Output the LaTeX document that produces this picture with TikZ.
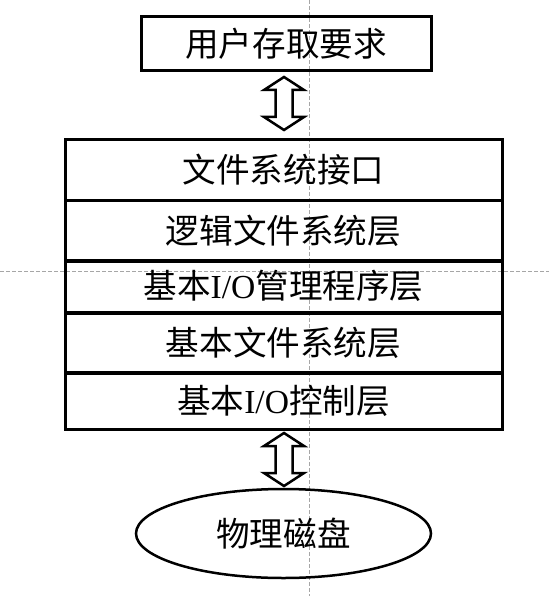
\documentclass[tikz,border=0pt]{standalone}
\usepackage{fontspec}
\setmainfont{Liberation Serif}
\newfontfamily\cjk{Noto Sans CJK SC}
\usetikzlibrary{calc,shapes.geometric}
\newcommand\IOtext{{\rmfamily I/O}}
\begin{document}
\begin{tikzpicture}[x=1pt,y=-1pt,
  label font/.style={font=\fontsize{33.6}{38}\selectfont\cjk},
  boxstyle/.style={draw, line width=3pt, label font, inner sep=0pt},
  layerbox/.style={boxstyle, minimum width=437pt},
  diskstyle/.style={ellipse, draw, line width=2.5pt, label font, inner sep=0pt,
    minimum width=295pt, minimum height=89pt},
  guide/.style={draw=gray!70, line width=0.8pt, dash pattern=on 4pt off 2pt},
  hollowarrow/.style={draw, line width=2.5pt, line join=miter, fill=white}]
\useasboundingbox (0,0) rectangle (549,596);

% guide lines
\draw[guide] (309,0) -- (309,596);
\draw[guide] (0,271) -- (549,271);

% request box
\node[boxstyle, minimum width=290pt, minimum height=54pt] (usr) at (286,44) {用户存取要求};

% layer stack
\node[layerbox, minimum height=60pt] (l1) at (283.5,170) {文件系统接口};
\node[layerbox, minimum height=61pt] (l2) at (283.5,230.5) {逻辑文件系统层};
\node[layerbox, minimum height=52pt] (l3) at (283.5,286) {基本\IOtext 管理程序层};
\node[layerbox, minimum height=60pt] (l4) at (283.5,343) {基本文件系统层};
\node[layerbox, minimum height=57pt] (l5) at (283.5,400.5) {基本\IOtext 控制层};

% disk
\node[diskstyle] (disk) at (283.5,533.5) {物理磁盘};

% double arrow end points
\coordinate (a1t) at (284,77);
\coordinate (a1b) at (284,130);
\coordinate (a2t) at (284,433);
\coordinate (a2b) at (284,486);

\foreach \s/\e in {a1t/a1b, a2t/a2b}{
  \draw[hollowarrow] let \p1=(\s), \p2=(\e) in
    (\x1,\y1) -- (\x1+20pt,\y1-13pt) -- (\x1+8.5pt,\y1-13pt)
    -- (\x1+8.5pt,\y2+13pt) -- (\x1+20pt,\y2+13pt) -- (\x1,\y2)
    -- (\x1-20pt,\y2+13pt) -- (\x1-8.5pt,\y2+13pt)
    -- (\x1-8.5pt,\y1-13pt) -- (\x1-20pt,\y1-13pt) -- cycle;
}
\end{tikzpicture}
\end{document}
